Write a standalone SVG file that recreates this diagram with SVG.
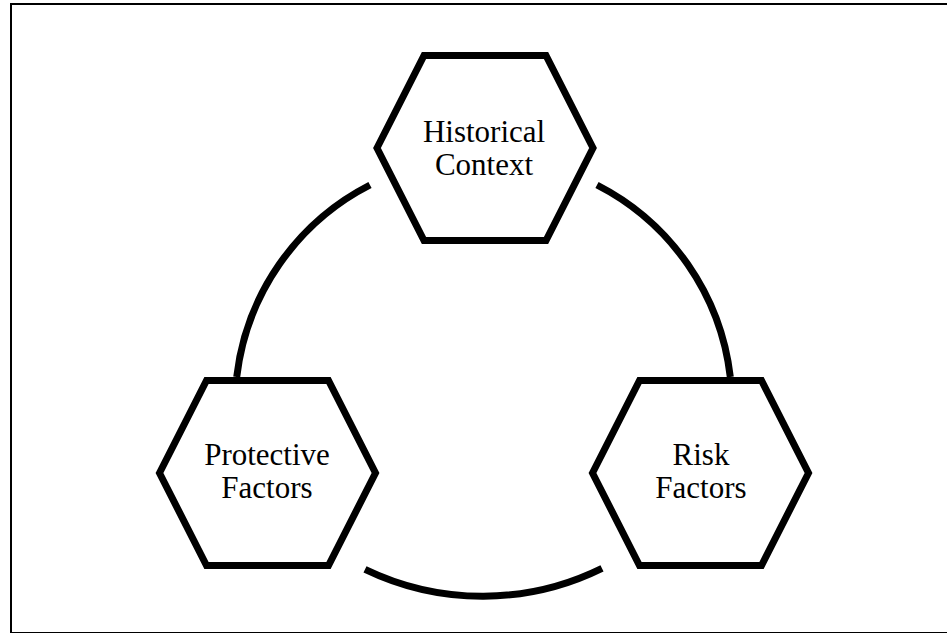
<svg xmlns="http://www.w3.org/2000/svg" width="947" height="633" viewBox="0 0 947 633">
  <style>
    .frame { fill: #ffffff; stroke: #000000; stroke-width: 2; }
    .hex { fill: #ffffff; stroke: #000000; stroke-width: 7; stroke-linejoin: miter; }
    .arc { fill: none; stroke: #000000; stroke-width: 7; stroke-linecap: butt; }
    .label { font-family: "Liberation Serif", "Times New Roman", serif; font-size: 31px; fill: #000000; text-anchor: middle; }
  </style>
  <defs>
    <!-- hexagon centred on the origin -->
    <polygon id="hexShape" points="-108,0 -61,-92.5 61,-92.5 108,0 61,92.5 -61,92.5"/>
  </defs>

  <rect class="frame" x="11" y="4" width="937" height="629"/>

  <g id="connectors">
    <path class="arc" d="M370,185 A248,248 0 0 0 236.7,377"/>
    <path class="arc" d="M597,185 A248,248 0 0 1 730.3,377"/>
    <path class="arc" d="M365,569.3 A270,270 0 0 0 602,568.3"/>
  </g>

  <g id="historical-context">
    <use href="#hexShape" class="hex" transform="translate(485,148)"/>
    <text class="label" x="484" y="141.7">Historical</text>
    <text class="label" x="484" y="175">Context</text>
  </g>

  <g id="protective-factors">
    <use href="#hexShape" class="hex" transform="translate(267.5,473)"/>
    <text class="label" x="267" y="465">Protective</text>
    <text class="label" x="267" y="498.3">Factors</text>
  </g>

  <g id="risk-factors">
    <use href="#hexShape" class="hex" transform="translate(700.5,473)"/>
    <text class="label" x="701" y="465">Risk</text>
    <text class="label" x="701" y="498.3">Factors</text>
  </g>
</svg>
